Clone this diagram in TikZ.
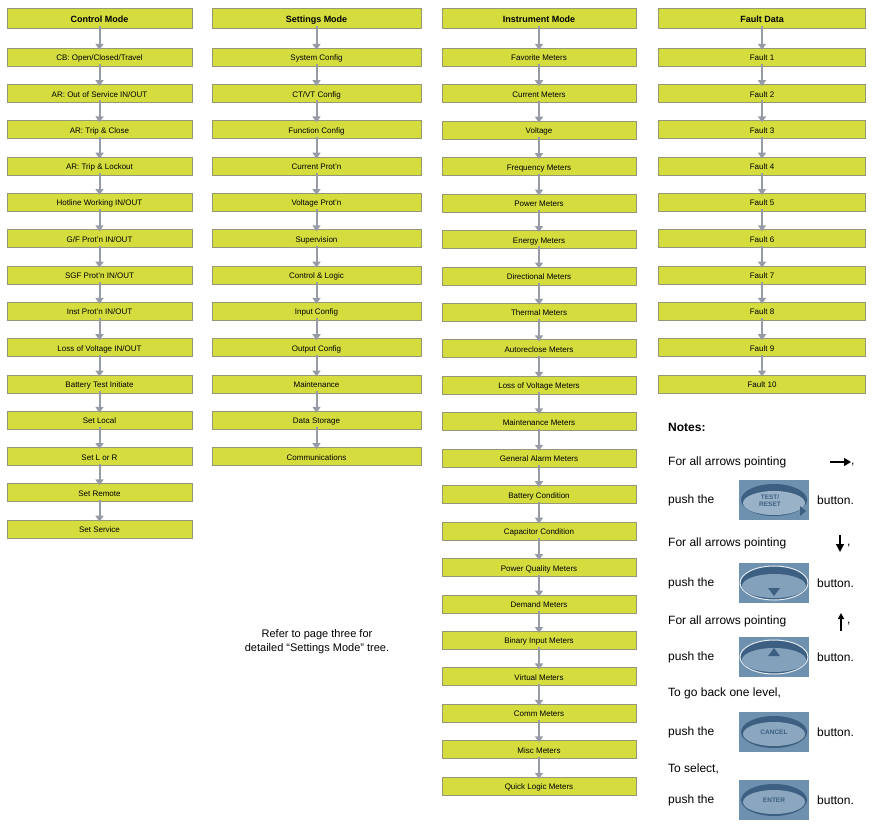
\documentclass[tikz,border=0pt]{standalone}
\usepackage{fontspec}
\setmainfont{Liberation Sans}
\usetikzlibrary{arrows.meta}
\definecolor{boxy}{RGB}{212,220,62}
\definecolor{boxb}{RGB}{150,150,120}
\definecolor{arr}{RGB}{150,155,165}
\definecolor{btnbg}{RGB}{110,145,175}
\definecolor{btnin}{RGB}{60,95,130}
\begin{document}
\begin{tikzpicture}[x=1pt,y=-1pt,
  item/.style={draw=boxb,fill=boxy,minimum height=18pt,inner sep=0pt,text height=7.5pt,text depth=0pt,font=\fontsize{8}{8}\selectfont},
  head/.style={item,minimum height=20pt,text height=8.5pt,text depth=0pt,font=\bfseries\fontsize{9}{9}\selectfont},
  conn/.style={draw=arr,line width=2pt,-{Triangle[length=6pt,width=8pt]}},
  note/.style={anchor=west,inner sep=0pt,font=\fontsize{12}{13}\selectfont},
  btn/.style={draw=none,fill=btnbg,minimum width=70pt,minimum height=40pt,inner sep=0pt}]
\useasboundingbox (0,0) rectangle (872,832);
\newcommand{\col}[5]{%
 \foreach \t [count=\i from 0] in {#5} {%
   \ifnum\i=0
     \node[head,minimum width=#3pt] (#4\i) at (#2,18) {\t};
   \else
     \node[item,minimum width=#3pt] (#4\i) at (#2,{57+(\i-1)*#1}) {\t};
   \fi}}
\col{36.3}{99.5}{185}{c}{Control Mode,CB: Open/Closed/Travel,AR: Out of Service IN/OUT,AR: Trip \& Close,AR: Trip \& Lockout,Hotline Working IN/OUT,G/F Prot'n IN/OUT,SGF Prot'n IN/OUT,Inst Prot'n IN/OUT,Loss of Voltage IN/OUT,Battery Test Initiate,Set Local,Set L or R,Set Remote,Set Service}
\foreach \i [evaluate=\i as \j using int(\i+1)] in {0,...,13} \draw[conn] ([yshift=2pt]c\i.south) -- ([yshift=-2pt]c\j.north);
\col{36.3}{316.5}{209}{s}{Settings Mode,System Config,CT/VT Config,Function Config,Current Prot'n,Voltage Prot'n,Supervision,Control \& Logic,Input Config,Output Config,Maintenance,Data Storage,Communications}
\foreach \i [evaluate=\i as \j using int(\i+1)] in {0,...,11} \draw[conn] ([yshift=2pt]s\i.south) -- ([yshift=-2pt]s\j.north);
\col{36.45}{539}{194}{m}{Instrument Mode,Favorite Meters,Current Meters,Voltage,Frequency Meters,Power Meters,Energy Meters,Directional Meters,Thermal Meters,Autoreclose Meters,Loss of Voltage Meters,Maintenance Meters,General Alarm Meters,Battery Condition,Capacitor Condition,Power Quality Meters,Demand Meters,Binary Input Meters,Virtual Meters,Comm Meters,Misc Meters,Quick Logic Meters}
\foreach \i [evaluate=\i as \j using int(\i+1)] in {0,...,20} \draw[conn] ([yshift=2pt]m\i.south) -- ([yshift=-2pt]m\j.north);
\col{36.3}{762}{207}{f}{Fault Data,Fault 1,Fault 2,Fault 3,Fault 4,Fault 5,Fault 6,Fault 7,Fault 8,Fault 9,Fault 10}
\foreach \i [evaluate=\i as \j using int(\i+1)] in {0,...,9} \draw[conn] ([yshift=2pt]f\i.south) -- ([yshift=-2pt]f\j.north);
\node[align=center,font=\fontsize{11}{14}\selectfont] (ref) at (317,642) {Refer to page three for\\detailed “Settings Mode” tree.};
% notes
\node[note,font=\bfseries\fontsize{12}{13}\selectfont] (n0) at (668,427) {Notes:};
\node[note] (n1) at (668,462) {For all arrows pointing};
\node[note] (n2) at (668,543) {For all arrows pointing};
\node[note] (n3) at (668,621) {For all arrows pointing};
\node[note] (n4) at (668,693) {To go back one level,};
\node[note] (n5) at (668,769) {To select,};
\coordinate (a1s) at (830,462); \coordinate (a1e) at (851,462);
\draw[line width=1.3pt,-{Triangle[length=7pt,width=8pt]}] (a1s) -- (a1e);
\node[note] at (851,465) {,};
\coordinate (a2s) at (840,535); \coordinate (a2e) at (840,552);
\draw[line width=1.3pt,-{Triangle[length=8pt,width=8pt]}] (a2s) -- (a2e);
\node[note] at (847,546) {,};
\coordinate (a3s) at (841,631); \coordinate (a3e) at (841,613);
\draw[line width=1.3pt,-{Triangle[length=6pt,width=6pt]}] (a3s) -- (a3e);
\node[note] at (847,624) {,};
\foreach \y/\k in {500/1,583/2,657/3,732/4,800/5} {
  \node[note] (p\k) at (668,\y) {push the};
  \node[btn] (b\k) at (774,\y) {};
  \node[note] (q\k) at (817,\y) {button.};
}
% button faces
\fill[btnin] (b1.center) ellipse (33pt and 16pt);
\fill[btnbg!70!white] ([yshift=-3pt]b1.center) ellipse (31pt and 12pt);
\node[font=\bfseries\fontsize{6.5}{7}\selectfont,text=btnin,align=center] (t1) at ([xshift=-4pt,yshift=-1pt]b1.center) {TEST/\\RESET};
\fill[btnin] ([xshift=26pt,yshift=-6pt]b1.center) -- ++(6,5) -- ++(-6,5) -- cycle;
\foreach \k in {2,3} {
  \draw[white!80!btnbg,line width=1pt,fill=btnin] (b\k.center) ellipse (34pt and 17pt);
  \fill[btnbg!85!white] ([yshift=-3pt]b\k.center) ellipse (32pt and 12pt);
}
\fill[btnin] ([xshift=-6pt,yshift=-5pt]b2.center) -- ++(12,0) -- ++(-6,8) -- cycle;
\fill[btnin] ([xshift=-6pt,yshift=1pt]b3.center) -- ++(12,0) -- ++(-6,-8) -- cycle;
\foreach \k/\t in {4/CANCEL,5/ENTER} {
  \fill[btnin] (b\k.center) ellipse (33pt and 16pt);
  \fill[btnbg!80!white] ([yshift=-2pt]b\k.center) ellipse (31pt and 12pt);
  \node[font=\bfseries\fontsize{6.5}{7}\selectfont,text=btnin] at (b\k.center) {\t};
}
\end{tikzpicture}
\end{document}
